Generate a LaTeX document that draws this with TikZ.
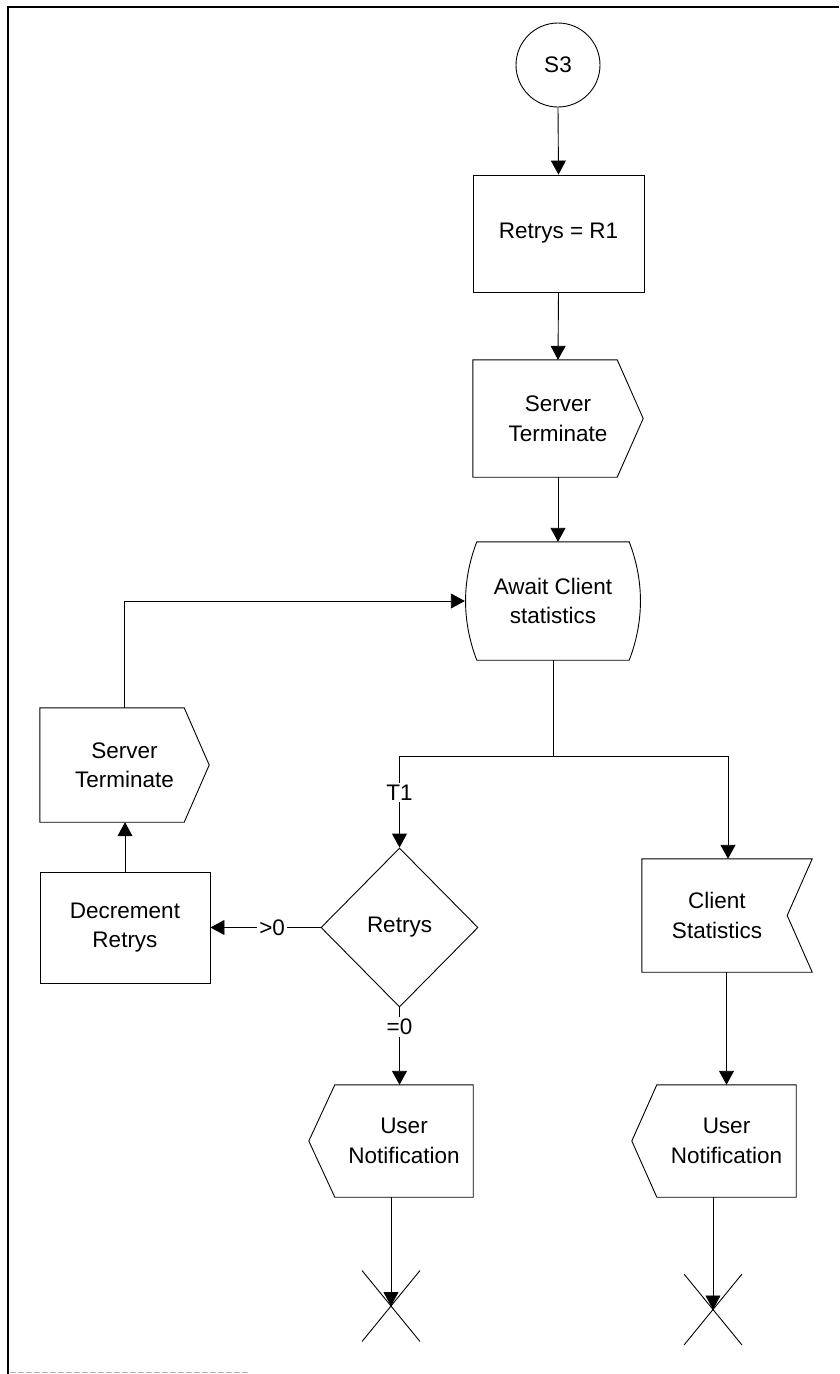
\documentclass[tikz,border=0pt]{standalone}
\usepackage{fontspec}
\setmainfont{Liberation Sans}
\usetikzlibrary{arrows.meta,shapes.geometric,shapes.misc,calc}
\tikzset{
  every node/.style={font=\fontsize{22.5}{29.5}\selectfont, align=center, inner sep=0pt},
  outline/.style={draw, line width=0.9pt, line join=miter},
  link/.style={line width=0.9pt},
  conn/.style={line width=0.9pt, -{Triangle[width=15pt,length=14pt]}},
  lbl/.style={fill=white, inner sep=2pt},
  endx/.style={draw, cross out, line width=0.9pt, minimum width=57pt, minimum height=70pt},
}
\begin{document}
\begin{tikzpicture}[x=1pt,y=-1pt]
\useasboundingbox (0,0) rectangle (839,1374);
% frame
\draw[line width=2.5pt] (8,1374) -- (8,7) -- (839,7);
\draw[gray!60, line width=1pt, dash pattern=on 6pt off 2pt] (10,1372.5) -- (248,1372.5);

% nodes
\node[draw, circle, minimum size=84pt, line width=0.9pt] (s3) at (558,65) {S3};
\node[draw, rectangle, minimum width=171pt, minimum height=117pt, line width=0.9pt] (r1) at (558.5,233.5) {Retrys = R1};

\node[minimum width=170pt, minimum height=117pt] (st1) at (558,418.5) {Server\\Terminate};
\draw[outline] (st1.north west) -- ([xshift=-26pt]st1.north east) -- (st1.east)
  -- ([xshift=-26pt]st1.south east) -- (st1.south west) -- cycle;

\node[minimum width=152pt, minimum height=118pt] (aw) at (553,601) {Await Client\\statistics};
\draw[outline] (aw.north west) -- (aw.north east)
  .. controls ([xshift=15pt]$(aw.north east)!0.33!(aw.south east)$) and ([xshift=15pt]$(aw.north east)!0.67!(aw.south east)$) .. (aw.south east)
  -- (aw.south west)
  .. controls ([xshift=-15pt]$(aw.north west)!0.67!(aw.south west)$) and ([xshift=-15pt]$(aw.north west)!0.33!(aw.south west)$) .. (aw.north west)
  -- cycle;

\coordinate (j) at (553,756);
\coordinate (jl) at (399.5,756);
\coordinate (jr) at (728,756);

\node[draw, diamond, minimum width=157pt, minimum height=159pt, line width=0.9pt] (dia) at (399.5,927.5) {Retrys};

\node[draw, rectangle, minimum width=170pt, minimum height=111pt, line width=0.9pt] (dec) at (125,927.5) {Decrement\\Retrys};

\node[minimum width=169pt, minimum height=114pt] (st2) at (124.5,765) {Server\\Terminate};
\draw[outline] (st2.north west) -- ([xshift=-25pt]st2.north east) -- (st2.east)
  -- ([xshift=-25pt]st2.south east) -- (st2.south west) -- cycle;

\node[minimum width=150pt, minimum height=113pt] (cs) at (717,915.5) {Client\\Statistics};
\draw[outline] (cs.north west) -- ([xshift=20pt]cs.north east) -- ([xshift=-5pt]cs.east)
  -- ([xshift=20pt]cs.south east) -- (cs.south west) -- cycle;

\node[minimum width=138pt, minimum height=112pt] (un1) at (404,1141) {User\\Notification};
\draw[outline] (un1.north west) -- (un1.north east) -- (un1.south east) -- (un1.south west)
  -- ([xshift=-26pt]un1.west) -- cycle;

\node[minimum width=139pt, minimum height=112pt] (un2) at (726.5,1141) {User\\Notification};
\draw[outline] (un2.north west) -- (un2.north east) -- (un2.south east) -- (un2.south west)
  -- ([xshift=-25pt]un2.west) -- cycle;

\node[endx] (x1) at (391,1306) {};
\node[endx] (x2) at (713,1309.5) {};

% connectors
\draw[conn] (s3.south) -- (r1.north);
\draw[conn] (r1.south) -- (st1.north);
\draw[conn] (st1.south) -- (st1.south |- aw.north);
\draw[link] (aw.south) -- (j);
\draw[link] (jl) -- (jr);
\draw[conn] (jl) -- node[lbl, pos=0.4] {T1} (dia.north);
\draw[conn] (jr) -- (jr |- cs.north);
\draw[conn] (dia.west) -- node[lbl, pos=0.44] {>0} (dec.east);
\draw[conn] (dec.north) -- (dec.north |- st2.south);
\draw[conn] (st2.north) |- ([xshift=-12pt]aw.west);
\draw[conn] (dia.south) -- node[lbl, pos=0.25] {=0} (dia.south |- un1.north);
\draw[conn] (un2.north |- cs.south) -- (un2.north);
\draw[conn] (x1 |- un1.south) -- (x1.center);
\draw[conn] (x2 |- un2.south) -- (x2.center);
\end{tikzpicture}
\end{document}
